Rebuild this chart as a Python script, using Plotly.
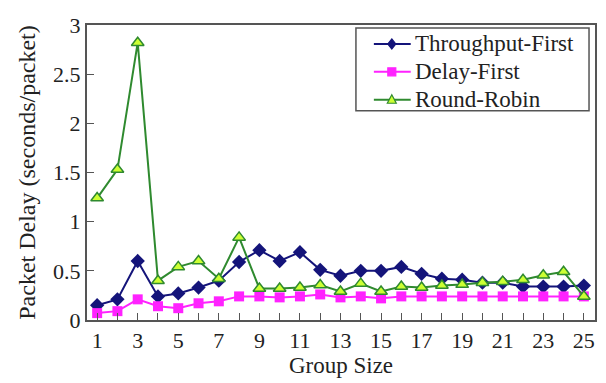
import plotly.graph_objects as go

group_size = list(range(1, 26))

throughput_first = [0.15, 0.21, 0.60, 0.24, 0.27, 0.33, 0.40, 0.59, 0.71, 0.60,
                    0.69, 0.51, 0.45, 0.50, 0.50, 0.54, 0.47, 0.42, 0.41, 0.38,
                    0.38, 0.34, 0.34, 0.34, 0.35]
delay_first = [0.07, 0.09, 0.21, 0.14, 0.12, 0.17, 0.19, 0.24, 0.24, 0.23,
               0.24, 0.26, 0.23, 0.24, 0.22, 0.24, 0.24, 0.24, 0.24, 0.24,
               0.24, 0.24, 0.24, 0.24, 0.24]
round_robin = [1.24, 1.53, 2.82, 0.40, 0.54, 0.60, 0.42, 0.84, 0.32, 0.32,
               0.33, 0.355, 0.29, 0.37, 0.29, 0.34, 0.33, 0.35, 0.36, 0.38,
               0.39, 0.41, 0.455, 0.49, 0.24]

series_names = ["Throughput-First", "Delay-First", "Round-Robin"]

x_tick_vals = list(range(1, 26))
x_tick_text = [str(v) if v % 2 == 1 else "" for v in x_tick_vals]
y_tick_vals = [0, 0.5, 1, 1.5, 2, 2.5, 3]
y_tick_text = ["0", "0.5", "1", "1.5", "2", "2.5", "3"]

FONT = "'Liberation Serif', 'Times New Roman', Times, serif"
TEXT = "#222"
FRAME = "#555"

NAVY = "#14147a"
MAGENTA = "#ff22ff"
GREEN = "#2f8a2f"
LIME = "#ccff33"

W, H = 606, 383
ML, MR, MT, MB = 87, 9, 25, 62
PW, PH = W - ML - MR, H - MT - MB


def px_x(px):
    """Pixel column -> paper x."""
    return (px - ML) / PW


def px_y(py):
    """Pixel row -> paper y."""
    return (H - MB - py) / PH


fig = go.Figure()
fig.add_trace(go.Scatter(
    x=group_size, y=throughput_first, name=series_names[0],
    mode="lines+markers",
    line=dict(color=NAVY, width=2),
    marker=dict(symbol="diamond", size=11, color=NAVY),
))
fig.add_trace(go.Scatter(
    x=group_size, y=delay_first, name=series_names[1],
    mode="lines+markers",
    line=dict(color=MAGENTA, width=2),
    marker=dict(symbol="square", size=10, color=MAGENTA),
))
fig.add_trace(go.Scatter(
    x=group_size, y=round_robin, name=series_names[2],
    mode="lines+markers",
    line=dict(color=GREEN, width=2),
    marker=dict(symbol="triangle-up", size=11, color=LIME,
                line=dict(color=GREEN, width=1.5)),
))

# Legend box drawn with shapes and annotations (tighter row spacing).
shapes = [dict(
    type="rect", xref="paper", yref="paper",
    x0=px_x(357), x1=px_x(591), y0=px_y(111), y1=px_y(28),
    line=dict(color=FRAME, width=1.5), fillcolor="white", layer="above",
)]
annotations = []
key_rows = [44, 72, 100]
key_colors = [NAVY, MAGENTA, GREEN]
# pixel-sized key paths; positive y points upward
key_paths = [
    "M0,5 L4,0 L0,-5 L-4,0 Z",          # diamond
    "M-4,-4 L4,-4 L4,4 L-4,4 Z",        # square
    "M0,5 L4.5,-3.5 L-4.5,-3.5 Z",      # triangle (pointing up)
]
key_fills = [NAVY, MAGENTA, LIME]
for name, row, col, path, fill in zip(series_names, key_rows, key_colors, key_paths, key_fills):
    shapes.append(dict(
        type="line", xref="paper", yref="paper",
        x0=px_x(375), x1=px_x(412), y0=px_y(row), y1=px_y(row),
        line=dict(color=col, width=2), layer="above",
    ))
    shapes.append(dict(
        type="path", xref="paper", yref="paper",
        xsizemode="pixel", ysizemode="pixel",
        xanchor=px_x(393), yanchor=px_y(row),
        path=path, fillcolor=fill, line=dict(color=col, width=1.2), layer="above",
    ))
    annotations.append(dict(
        xref="paper", yref="paper", x=px_x(414), y=px_y(row),
        xanchor="left", yanchor="middle", showarrow=False,
        text=name, font=dict(family=FONT, size=23, color=TEXT),
    ))

fig.update_layout(
    width=W, height=H,
    margin=dict(l=ML, r=MR, t=MT, b=MB),
    paper_bgcolor="white", plot_bgcolor="white",
    font=dict(family=FONT, size=21, color=TEXT),
    showlegend=False,
    shapes=shapes,
    annotations=annotations,
)
fig.update_xaxes(
    range=[0.5, 25.55],
    tickvals=x_tick_vals, ticktext=x_tick_text,
    ticks="inside", ticklen=7, tickcolor=FRAME, tickwidth=1,
    showline=True, linecolor=FRAME, linewidth=2, mirror=True,
    showgrid=False, zeroline=False,
    tickfont=dict(family=FONT, size=22, color=TEXT),
    title=dict(text="Group Size", font=dict(family=FONT, size=23, color=TEXT), standoff=4),
)
fig.update_yaxes(
    range=[0, 3],
    tickvals=y_tick_vals, ticktext=y_tick_text,
    ticks="inside", ticklen=7, tickcolor=FRAME, tickwidth=1,
    showline=True, linecolor=FRAME, linewidth=2, mirror=True,
    showgrid=False, zeroline=False,
    tickfont=dict(family=FONT, size=22, color=TEXT),
    title=dict(text="Packet Delay (seconds/packet)", font=dict(family=FONT, size=24, color=TEXT), standoff=11),
)

fig.write_html("out.html")
